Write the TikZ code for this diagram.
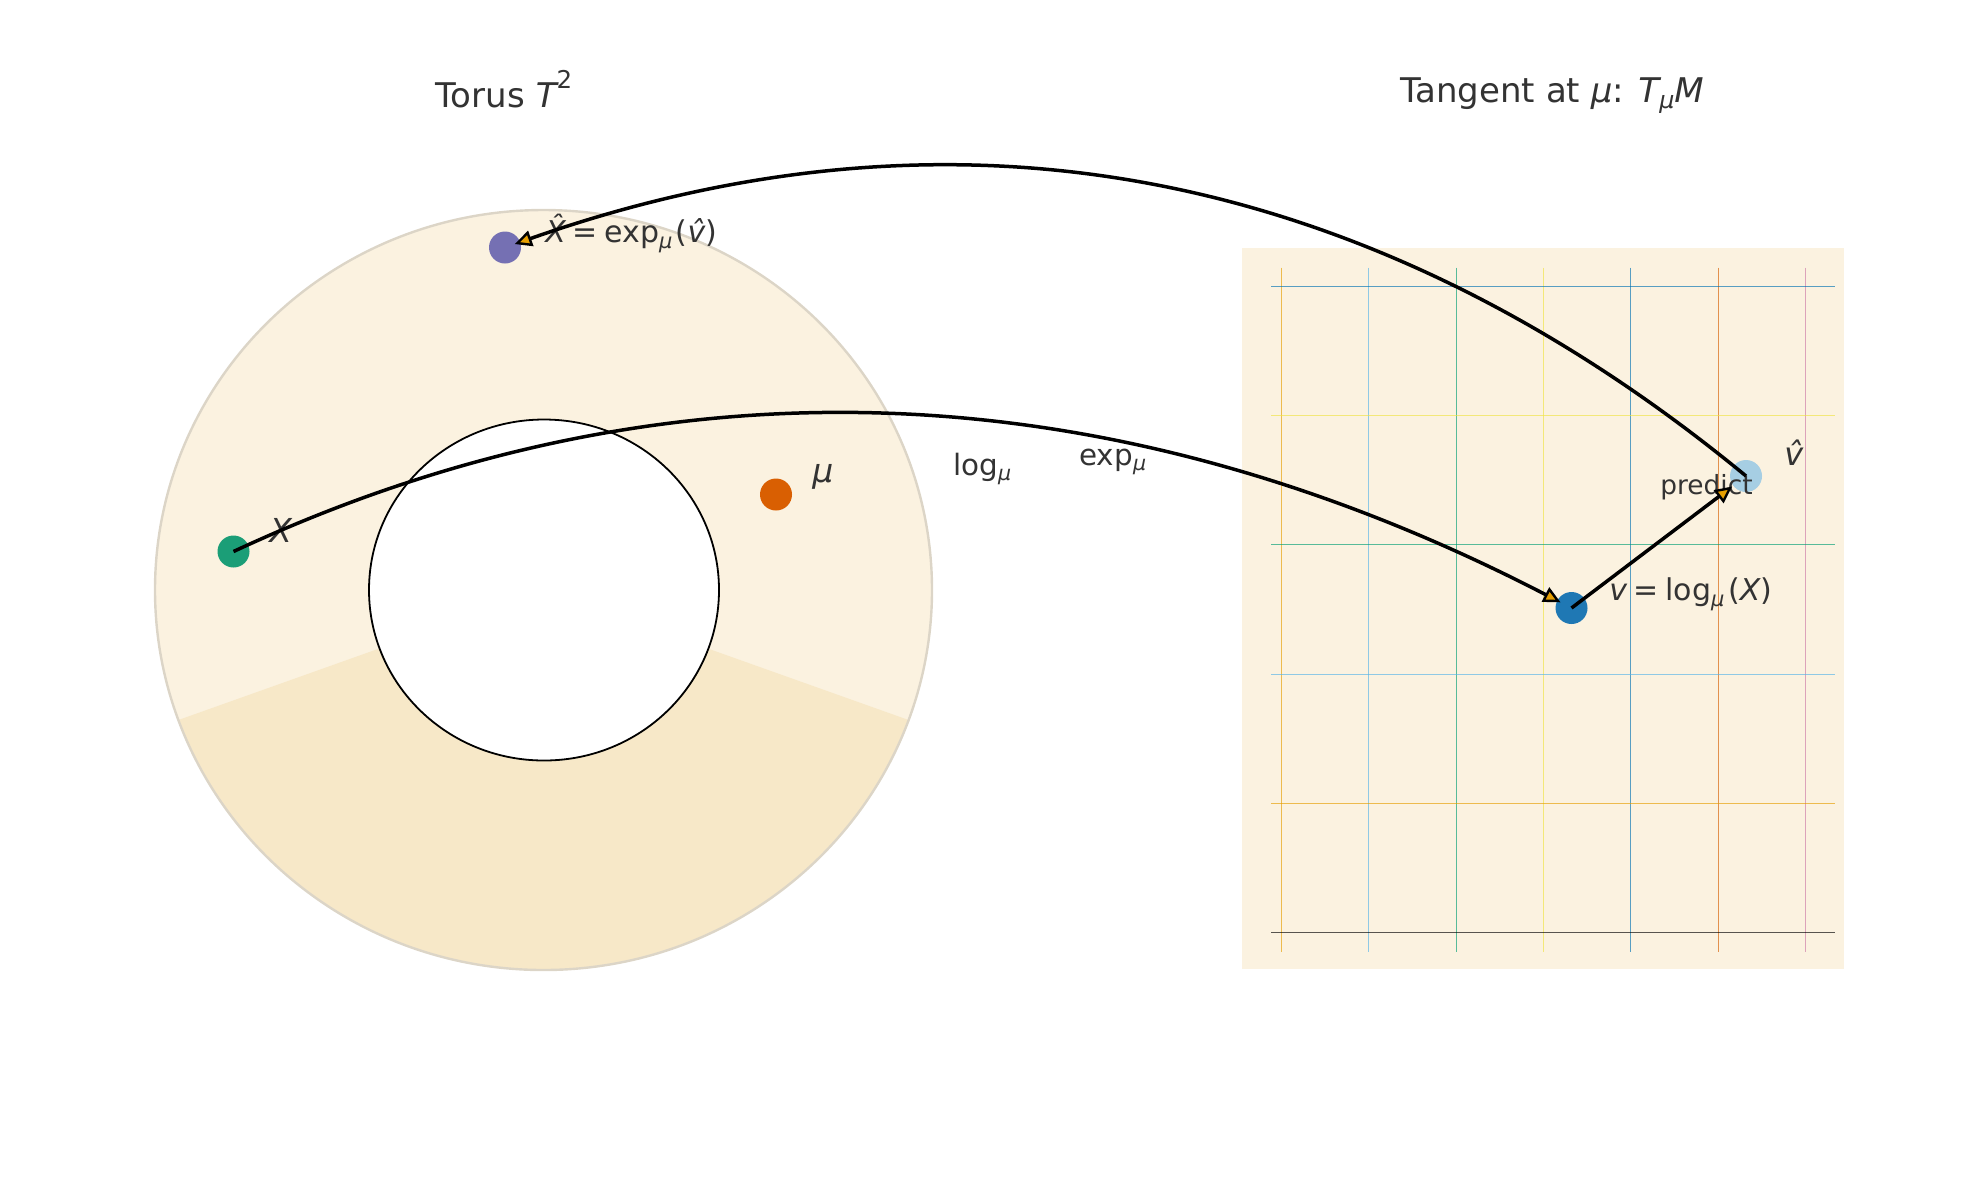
\documentclass[tikz,border=0pt]{standalone}
\usepackage{fontspec}
\setmainfont{DejaVu Sans}[ItalicFont={DejaVu Sans Oblique}]
\usepackage{graphicx}
\usetikzlibrary{arrows.meta,calc}
\definecolor{torlight}{HTML}{FBF2E0}
\definecolor{tordark}{HTML}{F7E8C8}
\definecolor{toredge}{HTML}{DCD5C7}
\definecolor{txt}{HTML}{333333}
\definecolor{cX}{HTML}{1B9E77}
\definecolor{cXh}{HTML}{7570B3}
\definecolor{cmu}{HTML}{D95F02}
\definecolor{cv}{HTML}{1F78B4}
\definecolor{cvh}{HTML}{A6CEE3}
\definecolor{okA}{HTML}{000000}
\definecolor{okB}{HTML}{E69F00}
\definecolor{okC}{HTML}{56B4E9}
\definecolor{okD}{HTML}{009E73}
\definecolor{okE}{HTML}{F0E442}
\definecolor{okF}{HTML}{0072B2}
\definecolor{okG}{HTML}{D55E00}
\definecolor{okH}{HTML}{CC79A7}
\newcommand{\mysb}[1]{\raisebox{-0.2em}{\scalebox{0.7}{#1}}}
\newcommand{\mysp}[1]{\raisebox{0.55em}{\scalebox{0.72}{#1}}}
\begin{document}
\begin{tikzpicture}[x=0.5pt,y=-0.5pt,
  dot/.style={circle,inner sep=0pt,minimum size=16pt,draw=none},
  lab/.style={inner sep=0pt,text=txt,anchor=base west},
  ttl/.style={inner sep=0pt,text=txt,anchor=base,font=\fontsize{17}{20}\selectfont},
  gridline/.style={line width=0.45pt,opacity=0.65},
  conn/.style={draw=black,line width=1.75pt,-{Triangle[length=8.5pt,width=8pt,line width=1.2pt,fill=okB]}}]
\useasboundingbox (0,0) rectangle (1979,1180);
% torus
\fill[torlight] (543.5,590) ellipse [x radius=194.25pt, y radius=190pt];
\begin{scope}
\clip (543.5,590) -- (-186.7,850) -- (-186.7,1180) -- (1273.7,1180) -- (1273.7,850) -- cycle;
\fill[tordark] (543.5,590) ellipse [x radius=194.25pt, y radius=190pt];
\end{scope}
\draw[toredge,line width=1.2pt] (543.5,590) ellipse [x radius=194.25pt, y radius=190pt];
\filldraw[fill=white,draw=black,line width=0.9pt] (544,590) ellipse [x radius=87.5pt, y radius=85.25pt];
% tangent plane
\fill[torlight] (1242,248) rectangle (1844,969);
\foreach \xx/\cc in {1281/okB,1368/okC,1456/okD,1543/okE,1630/okF,1718/okG,1805/okH}
  \draw[gridline,\cc] (\xx,267.5) -- (\xx,951.5);
\foreach \yy/\cc in {286.5/okF,415.5/okE,544.2/okD,674/okC,803/okB,932/okA}
  \draw[gridline,\cc] (1271,\yy) -- (1835,\yy);
% titles
\node[ttl] (t1) at (504,107) {Torus {\itshape T}\mysp{2}};
\node[ttl] (t2) at (1552,102) {Tangent at {\itshape μ}: {\itshape T}\mysb{\itshape μ}{\itshape M}};
% dots
\node[dot,fill=cXh] (xh) at (505,247.5) {};
\node[dot,fill=cmu] (mu) at (776,494.5) {};
\node[dot,fill=cX] (x) at (233.5,551.5) {};
\node[dot,fill=cv] (v) at (1571.5,608) {};
\node[dot,fill=cvh] (vh) at (1746,476) {};
% labels
\node[lab,font=\fontsize{15}{18}\selectfont] (lxh) at (545,242) {{\itshape \^{X}}\hspace{0.22em}=\hspace{0.22em}exp\mysb{\itshape μ}\hspace{0.12em}({\itshape \^{v}})};
\node[lab,font=\fontsize{16.5}{19}\selectfont] (lx) at (269,542) {\itshape X};
\node[lab,font=\fontsize{16.5}{19}\selectfont] (lmu) at (812,482) {\itshape μ};
\node[lab,font=\fontsize{16}{19}\selectfont] (lvh) at (1784,465) {\itshape \^{v}};
\node[lab,font=\fontsize{13.2}{16}\selectfont] (lpred) at (1660,494) {predict};
\node[lab,font=\fontsize{15}{18}\selectfont] (lv) at (1609,600) {{\itshape v}\hspace{0.22em}=\hspace{0.22em}log\mysb{\itshape μ}\hspace{0.12em}({\itshape X})};
\node[lab,font=\fontsize{14.7}{18}\selectfont] (llog) at (953,475) {log\mysb{\itshape μ}};
\node[lab,font=\fontsize{14.7}{18}\selectfont] (lexp) at (1079,465) {exp\mysb{\itshape μ}};
% connectors
\coordinate (logc) at (880,250);
\coordinate (expc) at (1180,10);
\draw[conn,shorten >=-2pt] (x.center) .. controls ($(x.center)!0.6667!(logc)$) and ($(v.center)!0.6667!(logc)$) .. (v);
\draw[conn,shorten >=-3pt] (vh.center) .. controls ($(vh.center)!0.6667!(expc)$) and ($(xh.center)!0.6667!(expc)$) .. (xh);
\draw[conn,shorten >=0.5pt] (v.center) -- (vh);
\end{tikzpicture}
\end{document}
